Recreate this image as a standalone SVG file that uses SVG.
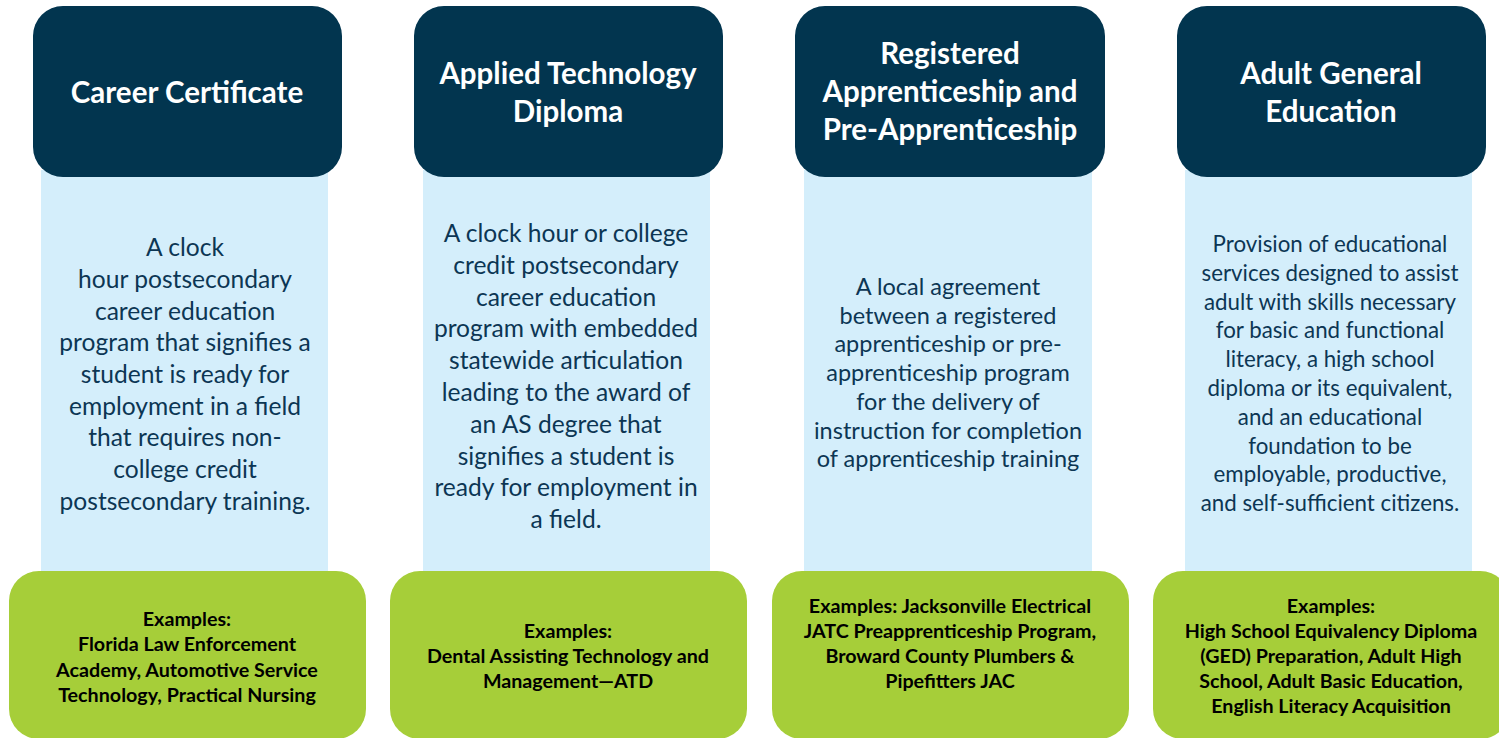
<svg xmlns="http://www.w3.org/2000/svg" width="1499" height="738" viewBox="0 0 1499 738">
<style>
.hdr{fill:#02354f}
.body{fill:#d4eefb}
.ex{fill:#a6ce39}
.ht{font-family:Lato,"Open Sans","Liberation Sans",sans-serif;font-weight:700;font-size:29.5px;fill:#ffffff;text-anchor:middle}
.bt{font-family:Lato,"Open Sans","Liberation Sans",sans-serif;font-size:24.6px;fill:#0c3654;text-anchor:middle}
.bt3{font-family:Lato,"Open Sans","Liberation Sans",sans-serif;font-size:23.5px;fill:#0c3654;text-anchor:middle}
.bt4{font-family:Lato,"Open Sans","Liberation Sans",sans-serif;font-size:22.3px;fill:#0c3654;text-anchor:middle}
.et{font-family:Lato,"Open Sans","Liberation Sans",sans-serif;font-weight:700;font-size:19.7px;fill:#000000;text-anchor:middle}
</style>
<rect width="1499" height="738" fill="#ffffff"/>
<g id="connectors"/>

<!-- Column 1 -->
<g id="cc-body">
<rect class="body" x="41" y="170" width="287" height="410"/>
<text class="bt" x="185" y="256">A clock</text>
<text class="bt" x="185" y="288">hour postsecondary</text>
<text class="bt" x="185" y="319.5">career education</text>
<text class="bt" x="185" y="351">program that signifies a</text>
<text class="bt" x="185" y="383">student is ready for</text>
<text class="bt" x="185" y="414.5">employment in a field</text>
<text class="bt" x="185" y="446">that requires non-</text>
<text class="bt" x="185" y="478">college credit</text>
<text class="bt" x="185" y="509.5">postsecondary training.</text>
</g>
<g id="cc-header">
<rect class="hdr" x="33" y="6" width="309" height="171" rx="30"/>
<text class="ht" x="187" y="103">Career Certificate</text>
</g>
<g id="cc-examples">
<rect class="ex" x="9" y="571" width="357" height="168" rx="30"/>
<text class="et" x="187" y="626">Examples:</text>
<text class="et" x="187" y="651">Florida Law Enforcement</text>
<text class="et" x="187" y="677">Academy, Automotive Service</text>
<text class="et" x="187" y="702">Technology, Practical Nursing</text>
</g>

<!-- Column 2 -->
<g id="atd-body">
<rect class="body" x="423" y="170" width="287" height="410"/>
<text class="bt" x="566" y="242">A clock hour or college</text>
<text class="bt" x="566" y="273.8">credit postsecondary</text>
<text class="bt" x="566" y="305.6">career education</text>
<text class="bt" x="566" y="337.4">program with embedded</text>
<text class="bt" x="566" y="369.2">statewide articulation</text>
<text class="bt" x="566" y="401">leading to the award of</text>
<text class="bt" x="566" y="432.8">an AS degree that</text>
<text class="bt" x="566" y="464.6">signifies a student is</text>
<text class="bt" x="566" y="496.4">ready for employment in</text>
<text class="bt" x="566" y="528.2">a field.</text>
</g>
<g id="atd-header">
<rect class="hdr" x="414" y="6" width="309" height="171" rx="30"/>
<text class="ht" x="568" y="84">Applied Technology</text>
<text class="ht" x="568" y="122">Diploma</text>
</g>
<g id="atd-examples">
<rect class="ex" x="390" y="571" width="357" height="168" rx="30"/>
<text class="et" x="568" y="638">Examples:</text>
<text class="et" x="568" y="663">Dental Assisting Technology and</text>
<text class="et" x="568" y="688">Management—ATD</text>
</g>

<!-- Column 3 -->
<g id="ra-body">
<rect class="body" x="804" y="170" width="288" height="410"/>
<text class="bt3" x="948" y="295">A local agreement</text>
<text class="bt3" x="948" y="323.7">between a registered</text>
<text class="bt3" x="948" y="352.4">apprenticeship or pre-</text>
<text class="bt3" x="948" y="381.1">apprenticeship program</text>
<text class="bt3" x="948" y="409.8">for the delivery of</text>
<text class="bt3" x="948" y="438.5">instruction for completion</text>
<text class="bt3" x="948" y="467.2">of apprenticeship training</text>
</g>
<g id="ra-header">
<rect class="hdr" x="795" y="6" width="310" height="171" rx="30"/>
<text class="ht" x="950" y="64">Registered</text>
<text class="ht" x="950" y="102">Apprenticeship and</text>
<text class="ht" x="950" y="140">Pre-Apprenticeship</text>
</g>
<g id="ra-examples">
<rect class="ex" x="772" y="571" width="357" height="168" rx="30"/>
<text class="et" x="950" y="613">Examples: Jacksonville Electrical</text>
<text class="et" x="950" y="638">JATC Preapprenticeship Program,</text>
<text class="et" x="950" y="663">Broward County Plumbers &amp;</text>
<text class="et" x="950" y="688">Pipefitters JAC</text>
</g>

<!-- Column 4 -->
<g id="age-body">
<rect class="body" x="1185" y="170" width="287" height="410"/>
<text class="bt4" x="1330" y="252">Provision of educational</text>
<text class="bt4" x="1330" y="280.8">services designed to assist</text>
<text class="bt4" x="1330" y="309.6">adult with skills necessary</text>
<text class="bt4" x="1330" y="338.4">for basic and functional</text>
<text class="bt4" x="1330" y="367.2">literacy, a high school</text>
<text class="bt4" x="1330" y="396">diploma or its equivalent,</text>
<text class="bt4" x="1330" y="424.8">and an educational</text>
<text class="bt4" x="1330" y="453.6">foundation to be</text>
<text class="bt4" x="1330" y="482.4">employable, productive,</text>
<text class="bt4" x="1330" y="511.2">and self-sufficient citizens.</text>
</g>
<g id="age-header">
<rect class="hdr" x="1177" y="6" width="309" height="171" rx="30"/>
<text class="ht" x="1331" y="84">Adult General</text>
<text class="ht" x="1331" y="122">Education</text>
</g>
<g id="age-examples">
<rect class="ex" x="1153" y="571" width="357" height="168" rx="30"/>
<text class="et" x="1331" y="613">Examples:</text>
<text class="et" x="1331" y="638">High School Equivalency Diploma</text>
<text class="et" x="1331" y="663">(GED) Preparation, Adult High</text>
<text class="et" x="1331" y="688">School, Adult Basic Education,</text>
<text class="et" x="1331" y="713">English Literacy Acquisition</text>
</g>
</svg>
